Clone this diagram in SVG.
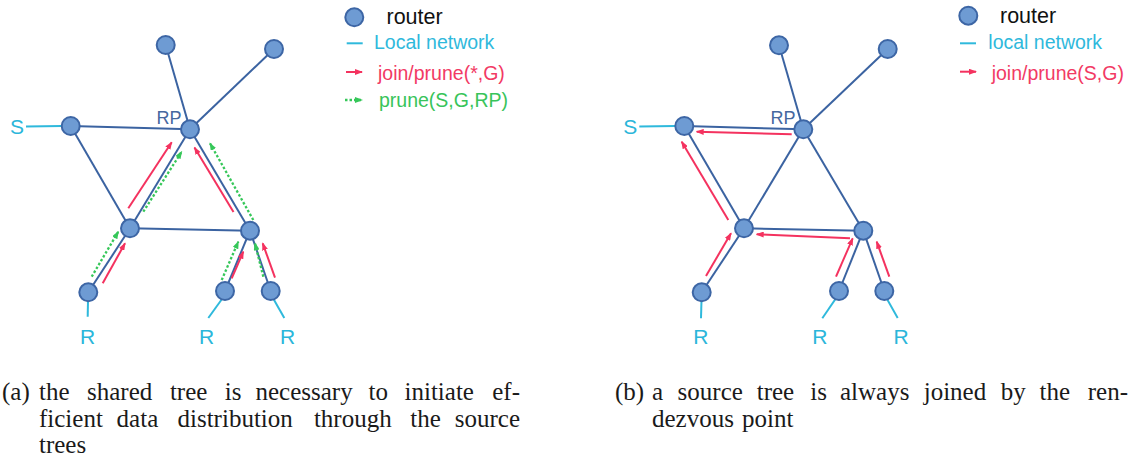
<svg xmlns="http://www.w3.org/2000/svg" width="1133" height="461" viewBox="0 0 1133 461">
  <style>
    .edge { stroke: #3b63a1; stroke-width: 2; fill: none; }
    .lan { stroke: #2fb9dc; stroke-width: 2; fill: none; }
    .router { fill: #6e9bd3; stroke: #3d66a5; stroke-width: 2; }
    .join { stroke: #f4325f; stroke-width: 2; fill: none; marker-end: url(#head-red); }
    .prune { stroke: #36c759; stroke-width: 2.3; fill: none; stroke-dasharray: 2.5 2; marker-end: url(#head-green); }
    .sans { font-family: "Liberation Sans", Arial, sans-serif; }
    .lbl { font-size: 21px; fill: #2bb6da; }
    .rp { font-size: 18px; fill: #46689f; }
    .leg { font-size: 19.5px; }
    .cap { font-family: "Liberation Serif", "Times New Roman", serif; font-size: 25px; fill: #1a1a1a; }
  </style>
  <defs>
    <marker id="head-red" viewBox="0 0 8 6" refX="7" refY="3" markerWidth="8" markerHeight="6" markerUnits="userSpaceOnUse" orient="auto">
      <path d="M0,0 L8,3 L0,6 z" fill="#f4325f"/>
    </marker>
    <marker id="head-green" viewBox="0 0 8 6" refX="7" refY="3" markerWidth="8" markerHeight="6" markerUnits="userSpaceOnUse" orient="auto">
      <path d="M0,0 L8,3 L0,6 z" fill="#36c759"/>
    </marker>
  </defs>

  <!-- ===== (a) shared tree ===== -->
  <g id="a-links">
    <line class="edge" x1="165.7" y1="45" x2="190" y2="129.3"/>
    <line class="edge" x1="274" y1="49" x2="190" y2="129.3"/>
    <line class="edge" x1="70.7" y1="126" x2="190" y2="129.3"/>
    <line class="edge" x1="70.7" y1="126" x2="130" y2="228.3"/>
    <line class="edge" x1="190" y1="129.3" x2="130" y2="228.3"/>
    <line class="edge" x1="130" y1="228.3" x2="250" y2="230.7"/>
    <line class="edge" x1="190" y1="129.3" x2="250" y2="230.7"/>
    <line class="edge" x1="130" y1="228.3" x2="88.3" y2="292.3"/>
    <line class="edge" x1="250" y1="230.7" x2="225" y2="291"/>
    <line class="edge" x1="250" y1="230.7" x2="270.7" y2="291"/>
    <line class="lan" x1="26" y1="126.5" x2="62" y2="126"/>
    <line class="lan" x1="88" y1="300" x2="87.7" y2="316.7"/>
    <line class="lan" x1="222" y1="299" x2="208.3" y2="318"/>
    <line class="lan" x1="273.5" y1="299" x2="284.3" y2="318"/>
  </g>
  <g id="a-messages">
    <line class="join" x1="128.3" y1="208.3" x2="171.7" y2="142.3"/>
    <line class="join" x1="233.5" y1="212" x2="194.5" y2="147.5"/>
    <line class="join" x1="102.7" y1="283.3" x2="125" y2="243.3"/>
    <line class="join" x1="231.7" y1="278.3" x2="243.3" y2="251.7"/>
    <line class="join" x1="275" y1="277.7" x2="262.7" y2="243.3"/>
    <line class="prune" x1="143.3" y1="211.7" x2="181.7" y2="151.7"/>
    <line class="prune" x1="253.3" y1="220" x2="210" y2="143.3"/>
    <line class="prune" x1="91.7" y1="276.7" x2="118.3" y2="231.7"/>
    <line class="prune" x1="221.7" y1="280" x2="238.3" y2="241.7"/>
    <line class="prune" x1="263.3" y1="276.7" x2="255" y2="243.3"/>
  </g>
  <g id="a-top1"><circle class="router" cx="165.7" cy="45" r="9"/></g>
  <g id="a-top2"><circle class="router" cx="274" cy="49" r="9"/></g>
  <g id="a-s"><circle class="router" cx="70.7" cy="126" r="9"/><text class="sans lbl" x="10" y="134">S</text></g>
  <g id="a-rp"><circle class="router" cx="190" cy="129.3" r="9"/><text class="sans rp" x="156.5" y="124">RP</text></g>
  <g id="a-midl"><circle class="router" cx="130" cy="228.3" r="9"/></g>
  <g id="a-midr"><circle class="router" cx="250" cy="230.7" r="9"/></g>
  <g id="a-r1"><circle class="router" cx="88.3" cy="292.3" r="9"/><text class="sans lbl" x="80" y="344">R</text></g>
  <g id="a-r2"><circle class="router" cx="225" cy="291" r="9"/><text class="sans lbl" x="199" y="344">R</text></g>
  <g id="a-r3"><circle class="router" cx="270.7" cy="291" r="9"/><text class="sans lbl" x="280" y="344">R</text></g>

  <g id="a-legend" class="sans leg">
    <circle class="router" cx="354.3" cy="17.3" r="9"/>
    <text x="386.5" y="24" font-size="21.5" fill="#111">router</text>
    <line class="lan" x1="346.7" y1="43.3" x2="362.7" y2="43.3"/>
    <text x="374" y="49.3" fill="#2fb9dc">Local network</text>
    <line class="join" x1="346" y1="72" x2="362" y2="72"/>
    <text x="378" y="79.5" fill="#f23a64">join/prune(*,G)</text>
    <line class="prune" x1="345" y1="100" x2="362" y2="100"/>
    <text x="379" y="107.3" fill="#38c45a">prune(S,G,RP)</text>
  </g>

  <!-- ===== (b) source tree ===== -->
  <g id="b-links">
    <line class="edge" x1="779" y1="45.3" x2="803.3" y2="129.3"/>
    <line class="edge" x1="887.7" y1="49" x2="803.3" y2="129.3"/>
    <line class="edge" x1="684.3" y1="126" x2="803.3" y2="129.3"/>
    <line class="edge" x1="684.3" y1="126" x2="744" y2="228.3"/>
    <line class="edge" x1="803.3" y1="129.3" x2="744" y2="228.3"/>
    <line class="edge" x1="744" y1="228.3" x2="863.3" y2="230.7"/>
    <line class="edge" x1="803.3" y1="129.3" x2="863.3" y2="230.7"/>
    <line class="edge" x1="744" y1="228.3" x2="701.7" y2="292.3"/>
    <line class="edge" x1="863.3" y1="230.7" x2="839" y2="291"/>
    <line class="edge" x1="863.3" y1="230.7" x2="884.3" y2="291"/>
    <line class="lan" x1="639.3" y1="126.5" x2="675.5" y2="126"/>
    <line class="lan" x1="701.5" y1="300" x2="701" y2="318.3"/>
    <line class="lan" x1="835.5" y1="299" x2="822.3" y2="318.3"/>
    <line class="lan" x1="887" y1="299" x2="897.7" y2="318"/>
  </g>
  <g id="b-messages">
    <line class="join" x1="791.7" y1="134.3" x2="696.7" y2="131.7"/>
    <line class="join" x1="728.3" y1="220" x2="681.7" y2="141.7"/>
    <line class="join" x1="850" y1="238.3" x2="756.7" y2="234.3"/>
    <line class="join" x1="706" y1="276" x2="731" y2="233.3"/>
    <line class="join" x1="836" y1="276.7" x2="852.7" y2="238.3"/>
    <line class="join" x1="889.3" y1="276.7" x2="876.7" y2="241.7"/>
  </g>
  <g id="b-top1"><circle class="router" cx="779" cy="45.3" r="9"/></g>
  <g id="b-top2"><circle class="router" cx="887.7" cy="49" r="9"/></g>
  <g id="b-s"><circle class="router" cx="684.3" cy="126" r="9"/><text class="sans lbl" x="623.3" y="134">S</text></g>
  <g id="b-rp"><circle class="router" cx="803.3" cy="129.3" r="9"/><text class="sans rp" x="770.5" y="124">RP</text></g>
  <g id="b-midl"><circle class="router" cx="744" cy="228.3" r="9"/></g>
  <g id="b-midr"><circle class="router" cx="863.3" cy="230.7" r="9"/></g>
  <g id="b-r1"><circle class="router" cx="701.7" cy="292.3" r="9"/><text class="sans lbl" x="693.3" y="344">R</text></g>
  <g id="b-r2"><circle class="router" cx="839" cy="291" r="9"/><text class="sans lbl" x="812.3" y="344">R</text></g>
  <g id="b-r3"><circle class="router" cx="884.3" cy="291" r="9"/><text class="sans lbl" x="893.5" y="344">R</text></g>

  <g id="b-legend" class="sans leg">
    <circle class="router" cx="968.3" cy="15.7" r="9"/>
    <text x="1000" y="23.3" font-size="21.5" fill="#111">router</text>
    <line class="lan" x1="960" y1="43.3" x2="976" y2="43.3"/>
    <text x="988.3" y="49.3" fill="#2fb9dc">local network</text>
    <line class="join" x1="960" y1="71.7" x2="976" y2="71.7"/>
    <text x="991.7" y="80" fill="#f23a64">join/prune(S,G)</text>
  </g>

  <!-- ===== captions (justified word by word) ===== -->
  <text class="cap" y="400">
    <tspan x="2">(a)</tspan><tspan x="39">the</tspan><tspan x="87">shared</tspan><tspan x="169.9">tree</tspan><tspan x="224.7">is</tspan><tspan x="255.5">necessary</tspan><tspan x="368.5">to</tspan><tspan x="404.5">initiate</tspan><tspan x="520" text-anchor="end">ef-</tspan>
  </text>
  <text class="cap" y="427">
    <tspan x="39">ficient</tspan><tspan x="116.6">data</tspan><tspan x="177.5">distribution</tspan><tspan x="313.9">through</tspan><tspan x="410.3">the</tspan><tspan x="520" text-anchor="end">source</tspan>
  </text>
  <text class="cap" x="39" y="453">trees</text>

  <text class="cap" y="400">
    <tspan x="615">(b)</tspan><tspan x="652">a</tspan><tspan x="677.6">source</tspan><tspan x="756.7">tree</tspan><tspan x="810.3">is</tspan><tspan x="840">always</tspan><tspan x="923.7">joined</tspan><tspan x="1000.7">by</tspan><tspan x="1039.6">the</tspan><tspan x="1128" text-anchor="end">ren-</tspan>
  </text>
  <text class="cap" y="427">
    <tspan x="652">dezvous</tspan><tspan x="742">point</tspan>
  </text>
</svg>
